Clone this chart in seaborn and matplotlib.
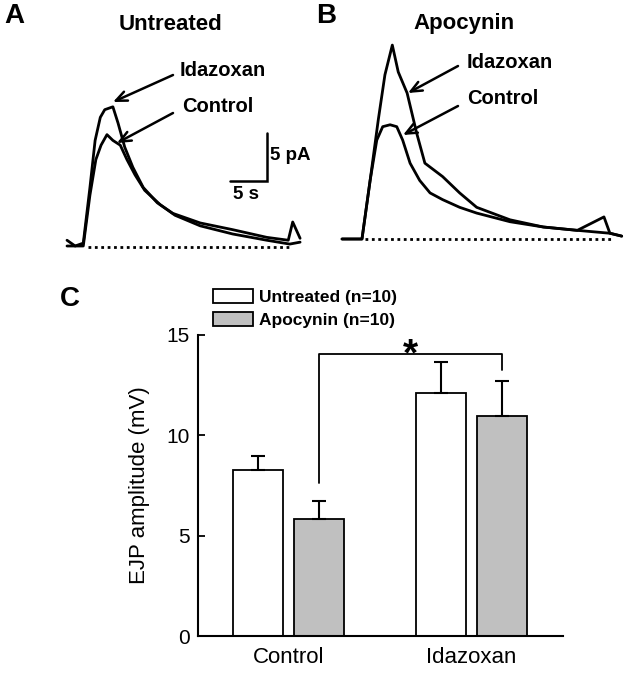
import matplotlib
matplotlib.use("Agg")
import matplotlib.pyplot as plt
from matplotlib.patches import Patch
import pandas as pd
import seaborn as sns

# ---- panel C: EJP amplitude (mV), mean and SEM (upper only)
groups = ["Control", "Idazoxan"]
treatments = ["Untreated (n=10)", "Apocynin (n=10)"]
untreated_mean = [8.25, 12.1]
untreated_sem = [0.7, 1.55]
apocynin_mean = [5.85, 10.95]
apocynin_sem = [0.9, 1.75]

# ---- panels A / B: current traces, time (s) vs current (pA)
a_idaz_t = [0, 1.1, 2.2, 3.1, 3.8, 4.5, 5.1, 6.2, 6.9, 7.8, 8.9, 10.3, 12.2, 14.3, 18.0, 22.4, 27.0, 29.9, 30.5, 31.5]
a_idaz_i = [0.6, 0, 0.3, 6.1, 11.0, 13.4, 14.2, 14.5, 12.8, 10.3, 8.2, 6.1, 4.5, 3.4, 2.4, 1.7, 0.9, 0.6, 2.5, 0.8]
a_ctrl_t = [0, 2.2, 3.1, 3.9, 4.6, 5.4, 6.2, 7.2, 8.1, 9.2, 10.5, 12.6, 14.6, 18.0, 22.4, 27.0, 30.1, 31.5]
a_ctrl_i = [0, 0, 5.3, 9.0, 10.5, 11.6, 11.0, 10.5, 9.0, 7.4, 5.8, 4.3, 3.2, 2.1, 1.25, 0.6, 0.2, 0.4]

b_idaz_t = [0, 1.8, 2.7, 3.8, 4.9, 5.8, 6.8, 7.6, 8.8, 10.1, 11.2, 13.6, 15.9, 18.2, 22.7, 27.2, 31.8, 36.2, 37.8]
b_idaz_i = [0, 0, 0, 6.1, 12.4, 17.1, 20.2, 17.4, 15.2, 11.0, 7.9, 6.5, 4.8, 3.3, 2.0, 1.25, 0.9, 0.6, 0.3]
b_ctrl_t = [0, 2.7, 3.8, 4.7, 5.5, 6.5, 7.4, 8.2, 9.2, 10.5, 11.9, 13.6, 15.9, 18.2, 22.7, 27.2, 31.8, 35.4, 36.2, 37.8]
b_ctrl_i = [0, 0, 6.1, 10.3, 11.7, 11.9, 11.7, 10.3, 7.9, 6.1, 4.8, 4.1, 3.3, 2.7, 1.8, 1.25, 0.9, 2.3, 0.6, 0.3]

scale_s = 5
scale_pa = 5

sns.set_style("ticks")
plt.rcParams["font.family"] = ["Liberation Sans", "DejaVu Sans"]
plt.rcParams.update({"text.color": "black", "axes.labelcolor": "black",
                     "xtick.color": "black", "ytick.color": "black"})

W, H = 628, 677
fig = plt.figure(figsize=(W / 100, H / 100), dpi=100)


def fx(px):
    return px / W


def fy(py):
    return 1 - py / H


ax_a = fig.add_axes([fx(60), fy(255), (305 - 60) / W, (255 - 30) / H])
ax_b = fig.add_axes([fx(335), fy(255), (628 - 335) / W, (255 - 30) / H])
ax_c = fig.add_axes([fx(198), fy(636), (563 - 198) / W, (636 - 335) / H])

traces = pd.concat([
    pd.DataFrame({"t": a_idaz_t, "I": a_idaz_i, "panel": "A", "drug": "Idazoxan"}),
    pd.DataFrame({"t": a_ctrl_t, "I": a_ctrl_i, "panel": "A", "drug": "Control"}),
    pd.DataFrame({"t": b_idaz_t, "I": b_idaz_i, "panel": "B", "drug": "Idazoxan"}),
    pd.DataFrame({"t": b_ctrl_t, "I": b_ctrl_i, "panel": "B", "drug": "Control"}),
])

for ax, panel in [(ax_a, "A"), (ax_b, "B")]:
    sns.lineplot(data=traces[traces.panel == panel], x="t", y="I", units="drug",
                 estimator=None, sort=False, color="black", lw=2.0, ax=ax)
    ax.axis("off")

ax_a.set_xlim(-7 / 7.4, (305 - 67) / 7.4)
ax_a.set_ylim(-9 / 9.6, 216 / 9.6)
ax_b.set_xlim(-7 / 7.4, (628 - 342) / 7.4)
ax_b.set_ylim(-16 / 9.6, 209 / 9.6)

# dotted baselines
ax_a.hlines(-0.1, 2.8, 30.1, colors="black", linestyles=(0, (1, 1.3)), lw=2)
ax_b.hlines(0, 3.1, 36.5, colors="black", linestyles=(0, (1, 1.3)), lw=2)

# scale bar in A
cx, cy = 27.0, 6.77
ax_a.plot([cx - scale_s, cx, cx], [cy, cy, cy + scale_pa], color="black", lw=1.8,
          solid_joinstyle="miter")
fig.text(fx(270), fy(155), "5 pA", ha="left", va="center", fontsize=13.5, fontweight="bold")
fig.text(fx(246), fy(194), "5 s", ha="center", va="center", fontsize=13.5, fontweight="bold")

# panel letters and titles
fig.text(fx(4), fy(3), "A", ha="left", va="top", fontsize=20, fontweight="bold")
fig.text(fx(316), fy(3), "B", ha="left", va="top", fontsize=20, fontweight="bold")
fig.text(fx(60), fy(286), "C", ha="left", va="top", fontsize=20, fontweight="bold")
fig.text(fx(170), fy(24), "Untreated", ha="center", va="center", fontsize=16, fontweight="bold")
fig.text(fx(464), fy(24), "Apocynin", ha="center", va="center", fontsize=16, fontweight="bold")

arrow = dict(arrowstyle="->,head_length=0.8,head_width=0.35", lw=1.8, color="black",
             shrinkA=0, shrinkB=0)
labels_arrows = [
    ("Idazoxan", (180, 70), (173, 75), (113, 102)),
    ("Control", (182, 106), (173, 113), (117, 143)),
    ("Idazoxan", (467, 62), (458, 66), (408, 93)),
    ("Control", (467, 99), (458, 106), (403, 135)),
]
for txt, tpos, tail, head in labels_arrows:
    fig.text(fx(tpos[0]), fy(tpos[1]), txt, ha="left", va="center", fontsize=14.5,
             fontweight="bold")
    fig.add_artist(matplotlib.patches.FancyArrowPatch(
        (fx(tail[0]), fy(tail[1])), (fx(head[0]), fy(head[1])),
        transform=fig.transFigure, mutation_scale=10, **arrow))

# ---- panel C bars
df_c = pd.DataFrame({
    "group": groups * 2,
    "treatment": [treatments[0]] * 2 + [treatments[1]] * 2,
    "amp": untreated_mean + apocynin_mean,
})
sns.barplot(data=df_c, x="group", y="amp", hue="treatment", order=groups,
            hue_order=treatments, palette=["white", "#c0c0c0"], saturation=1,
            width=0.667, gap=0.18, edgecolor="black", linewidth=1.3,
            errorbar=None, legend=False, ax=ax_c)

for cont, sem in zip(ax_c.containers, [untreated_sem, apocynin_sem]):
    for bar, e in zip(cont, sem):
        xc = bar.get_x() + bar.get_width() / 2
        ax_c.errorbar(xc, bar.get_height(), yerr=[[0], [e]], color="black", lw=1.5,
                      capsize=4.7, capthick=1.5, zorder=3)

# significance bracket
b0 = ax_c.containers[1][0]
b1 = ax_c.containers[1][1]
x0 = b0.get_x() + b0.get_width() / 2
x1 = b1.get_x() + b1.get_width() / 2
ax_c.plot([x0, x0, x1, x1], [7.6, 14.05, 14.05, 13.25], color="black", lw=1.3,
          clip_on=False)
ax_c.text((x0 + x1) / 2, 13.5, "*", ha="center", va="baseline", fontsize=28,
          fontweight="bold")

ax_c.set_xlim(-0.495, 1.5)
ax_c.set_ylim(0, 15)
ax_c.set_yticks([0, 5, 10, 15])
ax_c.set_xlabel("")
ax_c.set_ylabel("EJP amplitude (mV)", fontsize=16, labelpad=12)
ax_c.tick_params(axis="y", direction="in", length=5, width=1.3, labelsize=15, pad=6)
ax_c.tick_params(axis="x", length=0, labelsize=16, pad=8)
for s in ["top", "right"]:
    ax_c.spines[s].set_visible(False)
for s in ["left", "bottom"]:
    ax_c.spines[s].set_linewidth(1.5)
    ax_c.spines[s].set_color("black")

handles = [Patch(facecolor="white", edgecolor="black", lw=1.3),
           Patch(facecolor="#c0c0c0", edgecolor="black", lw=1.3)]
fig.legend(handles, treatments, loc="upper left", bbox_to_anchor=(fx(213), fy(289)),
           frameon=False, borderpad=0, borderaxespad=0, handlelength=2.3,
           handleheight=0.85, handletextpad=0.35, labelspacing=0.4,
           prop={"weight": "bold", "size": 12.5})

fig.savefig("out.png", dpi=100)
